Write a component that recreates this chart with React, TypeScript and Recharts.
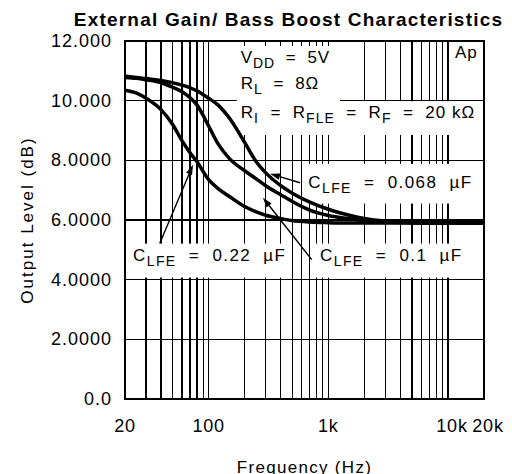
import {
  LineChart,
  Line,
  XAxis,
  YAxis,
  CartesianGrid,
  ReferenceArea,
  ReferenceLine,
} from "recharts";

// ----- Data -----
const freqs = [20, 25, 30, 40, 50, 60, 70, 80, 100, 120, 150, 200, 250, 300, 400, 500, 700, 1000, 1500, 2000, 3000, 5000, 10000, 20000];
// C_LFE = 0.22 uF
const cLfe022 = [10.35, 10.25, 10.08, 9.7, 9.2, 8.65, 8.25, 7.95, 7.35, 7.05, 6.78, 6.45, 6.27, 6.16, 6.05, 5.98, 5.93, 5.91, 5.9, 5.9, 5.9, 5.9, 5.9, 5.9];
// C_LFE = 0.1 uF
const cLfe01 = [10.78, 10.75, 10.7, 10.6, 10.45, 10.3, 10.1, 9.85, 9.15, 8.55, 8.05, 7.65, 7.38, 7.15, 6.85, 6.62, 6.33, 6.15, 6.04, 5.98, 5.93, 5.91, 5.9, 5.9];
// C_LFE = 0.068 uF
const cLfe0068 = [10.82, 10.78, 10.74, 10.68, 10.6, 10.52, 10.43, 10.33, 10.08, 9.85, 9.4, 8.6, 7.95, 7.58, 7.15, 6.9, 6.6, 6.36, 6.16, 6.05, 5.96, 5.92, 5.9, 5.9];

const xTicks = [20, 100, 1000, 10000, 20000];
const xTickLabels = ["20", "100", "1k", "10k", "20k"];
const yTicks = [0, 2, 4, 6, 8, 10, 12];
const yTickLabels = ["0.0", "2.0000", "4.0000", "6.0000", "8.0000", "10.000", "12.000"];
const gridFreqs = [
  30, 40, 50, 60, 70, 80, 90, 100,
  200, 300, 400, 500, 600, 700, 800, 900, 1000,
  2000, 3000, 4000, 5000, 6000, 7000, 8000, 9000, 10000,
];

const data = freqs.map((f, i) => ({
  f,
  a: cLfe022[i],
  b: cLfe01[i],
  c: cLfe0068[i],
}));

const FONT = "'Liberation Sans', Arial, sans-serif";

// ----- Annotation boxes (white background hides the grid) -----
const notes = [
  { x1: 172, x2: 1250, y1: 9.96, y2: 11.83, tx: 4, ls: 0.8, lines: ["V_{DD}  =  5V", "R_{L}  =  8Ω"], base: 17, gap: 26 },
  { x1: 172, x2: 20000, y1: 8.85, y2: 9.98, tx: 4, ls: 1.0, lines: ["R_{I}  =  R_{FLE}  =  R_{F}  =  20 kΩ"], base: 17, gap: 0 },
  { x1: 630, x2: 20000, y1: 6.55, y2: 7.88, tx: 4, ls: 1.4, lines: ["C_{LFE}  =  0.068  µF"], base: 24, gap: 0 },
  { x1: 20.8, x2: 480, y1: 4.07, y2: 5.21, tx: 6, ls: 1.4, lines: ["C_{LFE}  =  0.22  µF"], base: 17, gap: 0 },
  { x1: 760, x2: 20000, y1: 4.07, y2: 5.21, tx: 6, ls: 1.4, lines: ["C_{LFE}  =  0.1  µF"], base: 17, gap: 0 },
  { x1: 10800, x2: 20000, y1: 11.2, y2: 11.9, tx: 3, ls: 1.0, lines: ["Ap"], base: 14, gap: 0 },
];

const arrows = [
  { from: { x: 580, y: 7.25 }, to: { x: 326, y: 7.55 } },
  { from: { x: 39, y: 5.21 }, to: { x: 74, y: 7.85 } },
  { from: { x: 727, y: 4.67 }, to: { x: 284, y: 6.75 } },
];

function RichText({ x, y, src, ls }: { x: number; y: number; src: string; ls: number }) {
  const parts = src.split(/(_\{[^}]*\})/).filter(Boolean);
  let inSub = false;
  return (
    <text
      x={x}
      y={y}
      fontSize={17}
      fontFamily={FONT}
      fill="#000"
      letterSpacing={ls}
      xmlSpace="preserve"
      style={{ whiteSpace: "pre" }}
    >
      {parts.map((p, i) => {
        if (p.startsWith("_{")) {
          const dy = inSub ? 0 : 5;
          inSub = true;
          return (
            <tspan key={i} dy={dy} fontSize={14}>
              {p.slice(2, -1)}
            </tspan>
          );
        }
        const dy = inSub ? -5 : 0;
        inSub = false;
        return (
          <tspan key={i} dy={dy}>
            {p}
          </tspan>
        );
      })}
    </text>
  );
}

function NoteShape(props: any) {
  const { x, y, width, height, note } = props;
  return (
    <g>
      <rect x={x} y={y} width={width} height={height} fill="#fff" stroke="none" />
      {note.lines.map((l: string, i: number) => (
        <RichText key={i} x={x + note.tx} y={y + note.base + i * note.gap} src={l} ls={note.ls} />
      ))}
    </g>
  );
}

function ArrowShape(props: any) {
  const { x1, y1, x2, y2 } = props;
  const ang = Math.atan2(y2 - y1, x2 - x1);
  const len = 10;
  const hw = 3.2;
  const bx = x2 - len * Math.cos(ang);
  const by = y2 - len * Math.sin(ang);
  const px = -Math.sin(ang) * hw;
  const py = Math.cos(ang) * hw;
  return (
    <g>
      <line x1={x1} y1={y1} x2={bx} y2={by} stroke="#000" strokeWidth={1.4} />
      <polygon points={`${x2},${y2} ${bx + px},${by + py} ${bx - px},${by - py}`} fill="#000" />
    </g>
  );
}

function XTick(props: any) {
  const { x, y, payload } = props;
  const idx = xTicks.indexOf(payload.value);
  const label = xTickLabels[idx];
  // "10k" / "20k" sit a little right of their gridline in the original
  const dx = label.length === 3 && label.endsWith("k") ? 4 : 0;
  return (
    <text x={x + dx} y={y + 25} textAnchor="middle" fontSize={18} fontFamily={FONT} fill="#000" letterSpacing={0.8}>
      {label}
    </text>
  );
}

function YTick(props: any) {
  const { x, y, payload } = props;
  const idx = yTicks.indexOf(payload.value);
  return (
    <text x={x - 5} y={y} textAnchor="end" dominantBaseline="central" fontSize={18} fontFamily={FONT} fill="#000" letterSpacing={1}>
      {yTickLabels[idx]}
    </text>
  );
}

export default function App() {
  return (
    <div style={{ position: "absolute", left: 0, top: 0, width: 512, height: 474, background: "#fff" }}>
      <div
        style={{
          position: "absolute",
          left: 288.5,
          top: 10,
          transform: "translateX(-50%)",
          whiteSpace: "nowrap",
          fontFamily: FONT,
          fontWeight: "bold",
          fontSize: 19,
          letterSpacing: 1.2,
          lineHeight: "20px",
          color: "#000",
          zIndex: 2,
        }}
      >
        External Gain/ Bass Boost Characteristics
      </div>
      <LineChart width={512} height={474} data={data} margin={{ top: 41, right: 28, bottom: 0, left: 10 }}>
        <CartesianGrid stroke="#000" strokeWidth={1.3} shapeRendering="crispEdges" xAxisId="minor" />
        <XAxis
          xAxisId="minor"
          dataKey="f"
          type="number"
          scale="log"
          domain={[20, 20000]}
          ticks={gridFreqs}
          interval={0}
          hide
          allowDataOverflow
        />
        <XAxis
          dataKey="f"
          type="number"
          scale="log"
          domain={[20, 20000]}
          ticks={xTicks}
          interval={0}
          height={75}
          axisLine={false}
          tickLine={false}
          tick={<XTick />}
          allowDataOverflow
          label={{
            value: "Frequency (Hz)",
            position: "insideBottom",
            offset: 1,
            style: { fontFamily: FONT, fontSize: 17, letterSpacing: 1.3, fill: "#000" },
          }}
        />
        <YAxis
          type="number"
          domain={[0, 12]}
          ticks={yTicks}
          interval={0}
          width={115}
          axisLine={false}
          tickLine={false}
          tick={<YTick />}
          label={{
            content: ({ viewBox }: any) => {
              const cx = viewBox.x + 17;
              const cy = viewBox.y + viewBox.height / 2;
              return (
                <text
                  x={cx}
                  y={cy}
                  transform={`rotate(-90, ${cx}, ${cy})`}
                  textAnchor="middle"
                  dominantBaseline="central"
                  fontFamily={FONT}
                  fontSize={17}
                  letterSpacing={2}
                  fill="#000"
                >
                  Output Level (dB)
                </text>
              );
            },
          }}
        />
        {notes.map((n, i) => (
          <ReferenceArea
            key={`n${i}`}
            x1={n.x1}
            x2={n.x2}
            y1={n.y1}
            y2={n.y2}
            ifOverflow="visible"
            shape={(p: any) => <NoteShape {...p} note={n} />}
          />
        ))}
        <ReferenceArea x1={20} x2={20000} y1={0} y2={12} fill="none" fillOpacity={0} stroke="#000" strokeWidth={2} ifOverflow="visible" />
        {arrows.map((a, i) => (
          <ReferenceLine key={`a${i}`} segment={[a.from, a.to]} ifOverflow="visible" shape={(p: any) => <ArrowShape {...p} />} />
        ))}
        <Line type="monotone" dataKey="a" stroke="#000" strokeWidth={3.5} dot={false} isAnimationActive={false} />
        <Line type="monotone" dataKey="b" stroke="#000" strokeWidth={3.5} dot={false} isAnimationActive={false} />
        <Line type="monotone" dataKey="c" stroke="#000" strokeWidth={3.5} dot={false} isAnimationActive={false} />
      </LineChart>
    </div>
  );
}
